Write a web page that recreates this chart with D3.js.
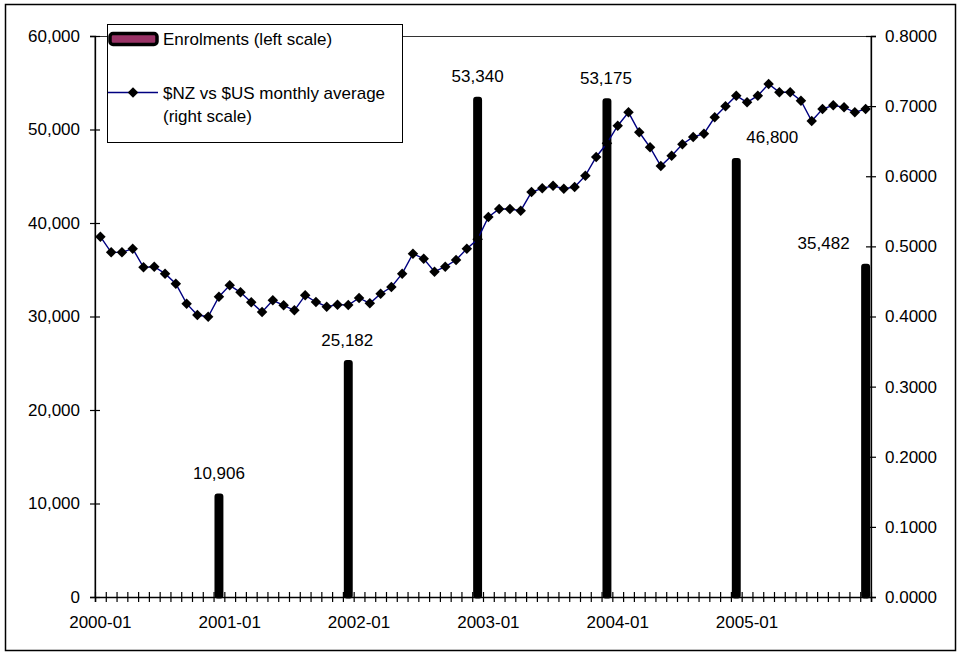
<!DOCTYPE html>
<html><head><meta charset="utf-8">
<script src="https://cdn.jsdelivr.net/npm/d3@7"></script>
<style>
html,body{margin:0;padding:0;background:#fff;}
svg text{font-family:"Liberation Sans",Arial,sans-serif;font-size:17px;fill:#000;}
</style></head>
<body><svg id="c" width="961" height="656"></svg>
<script>
// ---- data ----
const years = ["2000","2001","2002","2003","2004","2005"];
const monthNums = ["01","02","03","04","05","06","07","08","09","10","11","12"];
const months = [];
years.forEach(y => monthNums.forEach(m => months.push(y + "-" + m)));
const xTickLabels = ["2000-01","2001-01","2002-01","2003-01","2004-01","2005-01"];

const enrolMonths = ["2000-12","2001-12","2002-12","2003-12","2004-12","2005-12"];
const enrolValues = [10906, 25182, 53340, 53175, 46800, 35482];
const enrolLabelShift = [0, -1, 0, -1, 36, -42];

const fxValues = [
  0.5138,0.4915,0.4915,0.4967,0.4701,0.4710,0.4611,0.4468,0.4183,0.4021,0.3997,0.4282,
  0.4445,0.4345,0.4202,0.4064,0.4231,0.4159,0.4088,0.4302,0.4207,0.4140,0.4169,0.4164,
  0.4264,0.4188,0.4325,0.4421,0.4611,0.4896,0.4824,0.4639,0.4710,0.4806,0.4967,0.5100,
  0.5419,0.5533,0.5533,0.5509,0.5775,0.5828,0.5865,0.5823,0.5847,0.6008,0.6275,0.6470,
  0.6721,0.6912,0.6627,0.6413,0.6146,0.6293,0.6456,0.6560,0.6607,0.6841,0.6998,0.7149,
  0.7054,0.7149,0.7315,0.7197,0.7197,0.7078,0.6788,0.6959,0.7012,0.6983,0.6912,0.6959
];
const leftTicks = [0,10000,20000,30000,40000,50000,60000];
const rightTicks = [0,0.1,0.2,0.3,0.4,0.5,0.6,0.7,0.8];

// ---- layout ----
const L = 95, R = 871, T = 36, B = 597;
const svg = d3.select("#c");
svg.append("rect").attr("x",5.5).attr("y",4.5).attr("width",950).attr("height",646)
  .attr("fill","none").attr("stroke","#000").attr("stroke-width",1.5);

const x = d3.scaleBand().domain(months).range([L,R]).paddingInner(0).paddingOuter(0);
const yL = d3.scaleLinear().domain([0,60000]).range([B,T]);
const yR = d3.scaleLinear().domain([0,0.8]).range([B,T]);
const fmtL = d3.format(",");
const fmtR = d3.format(".4f");

// plot border
svg.append("rect").attr("x",L).attr("y",T+0.5).attr("width",R-L).attr("height",B-T)
  .attr("fill","none").attr("stroke","#333").attr("stroke-width",1);

// left axis
const gL = svg.append("g").attr("transform",`translate(${L},0)`)
  .call(d3.axisLeft(yL).tickValues(leftTicks).tickFormat(fmtL).tickSize(5).tickPadding(10));
gL.selectAll(".tick line").attr("x2",-5).attr("x1",5);
// right axis
const gR = svg.append("g").attr("transform",`translate(${R},0)`)
  .call(d3.axisRight(yR).tickValues(rightTicks).tickFormat(fmtR).tickSize(5).tickPadding(9));
gR.selectAll(".tick line").attr("x1",-5).attr("x2",5);
[gL,gR].forEach(g=>{
  g.select(".domain").attr("stroke","#000").attr("stroke-width",1.3);
  g.selectAll(".tick line").attr("stroke","#000").attr("stroke-width",1.2);
  g.selectAll("text").style("font-size","17px").attr("fill","#000");
});

// bars
const bars = enrolMonths.map((m,i)=>({m, v: enrolValues[i], dx: enrolLabelShift[i]}));
const bw = x.bandwidth()*0.55;
svg.append("g").selectAll("rect").data(bars).join("rect")
  .attr("x", d => x(d.m) + x.bandwidth()/2 - bw/2)
  .attr("y", d => yL(d.v))
  .attr("width", bw)
  .attr("height", d => yL(0) - yL(d.v))
  .attr("rx", 1.5)
  .attr("fill","#000").attr("stroke","#000").attr("stroke-width",3).attr("stroke-linejoin","round");

// x axis
const xScaleLin = d3.scaleLinear().domain([0,months.length]).range([L,R]);
const gX = svg.append("g").attr("transform",`translate(0,${B})`)
  .call(d3.axisBottom(xScaleLin).tickValues(d3.range(months.length+1)).tickFormat("").tickSize(5));
gX.selectAll(".tick line").attr("y1",-5).attr("y2",5).attr("stroke","#000").attr("stroke-width",1.2);
gX.select(".domain").attr("stroke","#000").attr("stroke-width",1.5);
svg.append("g").selectAll("text").data(xTickLabels).join("text")
  .attr("x", d => x(d) + x.bandwidth()/2).attr("y", 628)
  .attr("text-anchor","middle").text(d=>d);

// line
const cx = (d,i) => x(months[i]) + x.bandwidth()/2;
svg.append("path").datum(fxValues)
  .attr("fill","none").attr("stroke","#000080").attr("stroke-width",1.4)
  .attr("d", d3.line().x(cx).y(d=>yR(d)));
const sym = d3.symbol().type(d3.symbolSquare).size(55);
svg.append("g").selectAll("path").data(fxValues).join("path")
  .attr("d", sym)
  .attr("transform",(d,i)=>`translate(${cx(d,i)},${yR(d)}) rotate(45)`)
  .attr("fill","#000");

// bar labels
svg.append("g").selectAll("text").data(bars).join("text")
  .attr("x", d => x(d.m) + x.bandwidth()/2 + d.dx)
  .attr("y", d => yL(d.v) - 16)
  .attr("text-anchor","middle").text(d => fmtL(d.v));

// legend
const lg = svg.append("g");
lg.append("rect").attr("x",107.5).attr("y",24.5).attr("width",295).attr("height",118)
  .attr("fill","#fff").attr("stroke","#000").attr("stroke-width",1);
lg.append("rect").attr("x",110).attr("y",33.5).attr("width",47).attr("height",11).attr("rx",3)
  .attr("fill","#993366").attr("stroke","#000").attr("stroke-width",3.5);
lg.append("text").attr("x",163).attr("y",45).text("Enrolments (left scale)");
lg.append("line").attr("x1",108).attr("x2",158).attr("y1",92.5).attr("y2",92.5)
  .attr("stroke","#000080").attr("stroke-width",1.5);
lg.append("path").attr("d",sym).attr("transform","translate(133,92.5) rotate(45)").attr("fill","#000");
lg.append("text").attr("x",163).attr("y",99).text("$NZ vs $US monthly average");
lg.append("text").attr("x",163).attr("y",122).text("(right scale)");
</script></body></html>
